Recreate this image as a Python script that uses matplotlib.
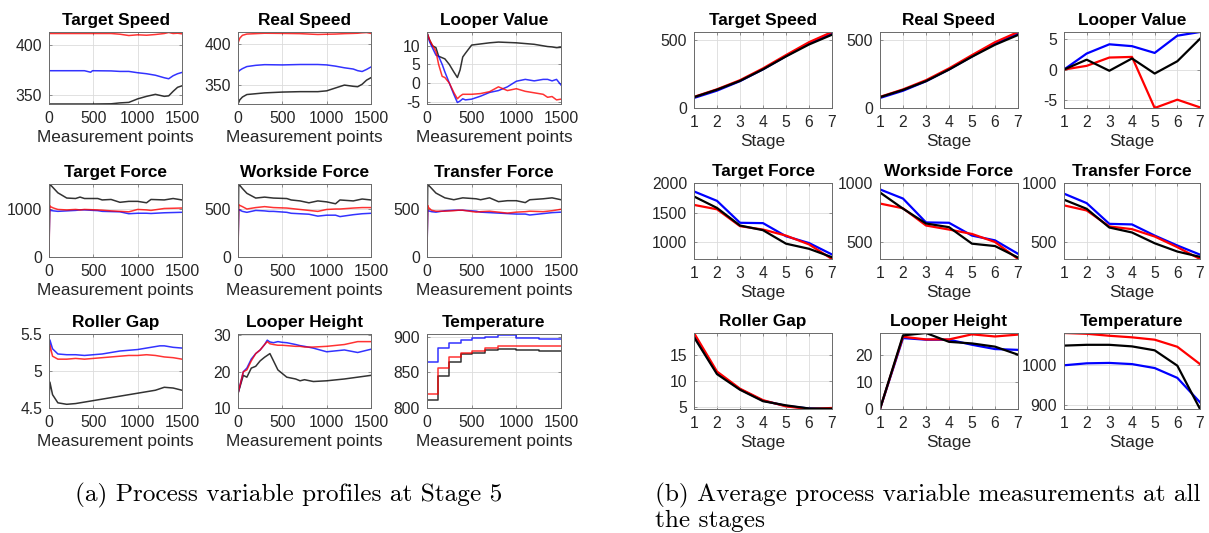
import matplotlib
matplotlib.use("Agg")
import matplotlib.pyplot as plt
from matplotlib.ticker import FormatStrFormatter

# ---------------- (a) process variable profiles at stage 5 ----------------
ts_x = [0, 200, 400, 470, 490, 700, 800, 900, 1000, 1100, 1200, 1300, 1350, 1400, 1450, 1500]
ts_red = [411.5, 411.5, 411.5, 411.5, 411.5, 411.5, 410.8, 409.5, 410.2, 409.8, 410.5, 411.5, 412.5, 411.5, 411.8, 411.2]
ts_blue = [374.5, 374.5, 374.5, 373.0, 374.5, 374.3, 373.8, 373.8, 372.5, 371.5, 370.0, 367.5, 366.5, 369.5, 371.5, 372.8]
ts_black = [341.4, 341.4, 341.4, 341.4, 341.4, 341.6, 342.5, 343.0, 346.5, 349.0, 351.0, 349.0, 349.5, 354.0, 358.0, 359.5]

rs_x = [0, 20, 50, 100, 200, 300, 500, 700, 900, 1000, 1100, 1200, 1300, 1350, 1400, 1450, 1500]
rs_red = [401, 407, 410.5, 412, 412.5, 413, 412.8, 412.5, 411.5, 411.8, 412, 412.5, 412.8, 413, 413.5, 413.8, 412.8]
rs_blue = [366, 368, 370, 372.5, 374, 374.8, 374.5, 375, 375, 374.5, 373, 371, 369.5, 367.5, 366.5, 369, 372]
rs_black = [327, 332, 335.5, 338.5, 339.5, 340.5, 341.5, 342, 342, 343, 346.5, 350, 348.5, 348, 351, 356, 359]

lv_x = [0, 30, 60, 100, 130, 170, 200, 250, 300, 340, 370, 400, 430, 500, 600, 700, 800,
        900, 1000, 1100, 1200, 1300, 1350, 1400, 1450, 1500]
lv_black = [13.5, 11.5, 10.0, 9.5, 7.2, 6.8, 6.5, 5.0, 3.0, 1.5, 3.5, 7.0, 8.0, 10.2, 10.5, 10.8,
            11.0, 10.9, 10.8, 10.6, 10.4, 10.0, 9.8, 9.7, 9.5, 9.6]
lv_blue = [13.5, 11.0, 9.5, 7.5, 7.2, 5.0, 3.0, 0.0, -3.0, -5.2, -4.8, -4.2, -4.5, -4.3, -3.5, -2.5,
           -2.0, -1.0, 0.5, 1.0, 0.6, 1.0, 1.0, 0.6, 1.0, -0.5]
lv_red = [13.5, 11.5, 10.2, 8.5, 5.0, 1.8, 1.5, 0.0, -2.5, -4.2, -3.5, -3.0, -3.0, -3.0, -2.8, -2.3,
          -1.0, -2.0, -1.5, -2.2, -2.6, -3.0, -3.8, -3.6, -4.5, -4.3]

f_x = [0, 8, 15, 50, 100, 200, 300, 350, 400, 550, 600, 700, 800, 900, 1000, 1100, 1150, 1300, 1400, 1500]
tf_black = [0, 1530, 1520, 1450, 1350, 1240, 1230, 1260, 1230, 1230, 1200, 1210, 1150, 1170, 1170, 1140, 1210, 1200, 1230, 1200]
tf_red = [0, 1080, 1060, 1030, 1000, 990, 1000, 990, 1000, 990, 985, 970, 960, 950, 1000, 990, 980, 1020, 1025, 1030]
tf_blue = [150, 1000, 980, 970, 960, 970, 980, 990, 990, 975, 960, 955, 950, 910, 920, 920, 915, 930, 935, 940]

wf_black = [0, 765, 760, 720, 670, 620, 630, 625, 620, 615, 600, 590, 570, 590, 580, 560, 600, 590, 610, 600]
wf_red = [0, 550, 545, 530, 505, 520, 530, 525, 520, 515, 510, 500, 490, 480, 500, 505, 505, 515, 520, 520]
wf_blue = [60, 500, 495, 480, 470, 490, 485, 480, 480, 470, 460, 455, 450, 430, 440, 440, 425, 445, 455, 460]

trf_black = [0, 760, 755, 720, 670, 620, 600, 610, 620, 610, 600, 620, 580, 590, 590, 570, 600, 610, 620, 600]
trf_red = [50, 540, 520, 490, 480, 480, 485, 490, 490, 470, 475, 480, 470, 460, 470, 475, 480, 475, 485, 500]
trf_blue = [60, 480, 485, 475, 470, 485, 490, 490, 490, 480, 470, 465, 460, 455, 450, 450, 440, 455, 465, 470]

rg_x = [0, 10, 40, 100, 200, 300, 400, 500, 600, 700, 800, 900, 1000, 1100, 1200, 1250, 1300, 1400, 1500]
rg_blue = [5.20, 5.42, 5.30, 5.23, 5.22, 5.22, 5.21, 5.22, 5.23, 5.25, 5.27, 5.28, 5.29, 5.31, 5.33, 5.34, 5.34, 5.32, 5.31]
rg_red = [5.17, 5.35, 5.20, 5.16, 5.16, 5.17, 5.16, 5.17, 5.18, 5.19, 5.20, 5.21, 5.21, 5.22, 5.21, 5.20, 5.19, 5.18, 5.16]
rg_black = [4.60, 4.85, 4.68, 4.57, 4.55, 4.56, 4.58, 4.60, 4.62, 4.64, 4.66, 4.68, 4.70, 4.72, 4.74, 4.76, 4.78, 4.77, 4.74]

lh_x = [0, 60, 100, 150, 200, 250, 300, 330, 360, 400, 450, 500, 550, 650, 700, 750, 850, 1000, 1200, 1350, 1500]
lh_black = [14, 19, 18.5, 21, 21.5, 23, 24, 24.5, 25, 23, 20.5, 19.5, 18.5, 18, 17.5, 17.8, 17.3, 17.5, 18, 18.5, 19]
lh_blue = [14, 20, 21, 23.5, 25, 26, 27.5, 28.7, 28.2, 28, 28.3, 28.1, 28, 27.5, 27.2, 27, 26.5, 25.5, 26, 25.3, 26.2]
lh_red = [14, 20, 20.5, 23, 25, 26, 27.5, 28.3, 27.7, 27.5, 27.3, 27.3, 27.2, 27, 27, 26.8, 26.8, 27, 27.5, 28.3, 28.3]

tp_x = [0, 120, 250, 380, 500, 650, 800, 1000, 1250, 1500]
tp_blue = [865, 885, 892, 895, 898, 900, 902, 899, 897, 897]
tp_red = [819, 856, 871, 877, 880, 884, 887, 887, 887, 887]
tp_black = [811, 845, 865, 876, 878, 881, 883, 881, 880, 880]

# ---------------- (b) averages over the seven stages ----------------
stages = [1, 2, 3, 4, 5, 6, 7]
s_ts_blue = [74, 128, 198, 285, 382, 478, 552]
s_ts_red = [82, 138, 205, 292, 390, 485, 560]
s_ts_black = [80, 135, 200, 285, 380, 468, 540]

s_rs_blue = [74, 127, 197, 284, 380, 477, 550]
s_rs_red = [82, 137, 205, 292, 390, 485, 560]
s_rs_black = [80, 133, 198, 283, 378, 466, 538]

s_lv_blue = [0, 2.6, 4.1, 3.8, 2.7, 5.5, 6.1]
s_lv_red = [0, 0.6, 1.95, 2.05, -6.25, -4.9, -6.15]
s_lv_black = [0, 1.6, -0.2, 1.8, -0.65, 1.35, 5.0]

s_tf_blue = [1858, 1699, 1330, 1324, 1103, 989, 796]
s_tf_red = [1631, 1557, 1273, 1216, 1114, 966, 720]
s_tf_black = [1773, 1580, 1284, 1205, 978, 892, 750]

s_wf_blue = [946, 869, 668, 665, 557, 517, 404]
s_wf_red = [827, 787, 642, 608, 571, 503, 360]
s_wf_black = [920, 784, 659, 628, 489, 469, 372]

s_trf_blue = [910, 830, 655, 650, 556, 472, 395]
s_trf_red = [811, 768, 633, 610, 548, 458, 358]
s_trf_black = [859, 782, 624, 582, 491, 421, 376]

s_rg_blue = [18.6, 11.5, 8.4, 6.2, 5.2, 4.7, 4.6]
s_rg_red = [19.2, 11.8, 8.5, 6.3, 5.1, 4.6, 4.8]
s_rg_black = [18.4, 11.3, 8.3, 6.1, 5.3, 4.7, 4.65]

s_lh_blue = [0, 26.5, 25.9, 25.9, 24.0, 22.4, 22.1]
s_lh_red = [0, 27.0, 26.0, 26.0, 27.9, 27.1, 27.8]
s_lh_black = [0, 27.5, 28.4, 25.1, 24.5, 23.3, 20.3]

s_tp_blue = [1000, 1005, 1006, 1003, 993, 968, 906]
s_tp_red = [1082, 1080, 1075, 1071, 1065, 1047, 1003]
s_tp_black = [1050, 1052, 1052, 1048, 1038, 999, 889]

W, H = 1209, 533
AX_GREY = "#262626"
plt.rcParams["font.family"] = ["Liberation Sans", "DejaVu Sans"]

fig = plt.figure(figsize=(W / 100, H / 100), dpi=100)


def box(x0, x1, y0, y1):
    return [x0 / W, 1 - y1 / H, (x1 - x0) / W, (y1 - y0) / H]


def style(ax, title, xlabel, xlim, xticks, ylim, yticks):
    ax.set_xlim(xlim)
    ax.set_ylim(ylim)
    ax.set_xticks(xticks)
    ax.set_yticks(yticks)
    ax.yaxis.set_major_formatter(FormatStrFormatter("%g"))
    ax.grid(True, color="#dcdcdc", lw=0.6)
    ax.set_axisbelow(True)
    ax.tick_params(direction="in", length=2.5, width=0.5, colors=AX_GREY,
                   labelsize=11.3, pad=5, top=True, right=True)
    ax.tick_params(color="#6a6a6a")
    for sp in ax.spines.values():
        sp.set_color("#6a6a6a")
        sp.set_linewidth(0.7)
    ax.set_title(title, fontsize=12.4, fontweight="bold", pad=5)
    ax.set_xlabel(xlabel, fontsize=12.4, color=AX_GREY, labelpad=3)


left_cols = [(49, 182), (238, 371), (427, 561)]
left_rows = [(32, 104), (184, 257), (334, 408)]
right_cols = [(694, 832), (880, 1018), (1064, 1200)]
right_rows = [(32, 108), (183, 259), (333, 409)]

panels_a = [
    ("Target Speed", ts_x, ts_black, ts_blue, ts_red, (341.4, 413), [350, 400]),
    ("Real Speed", rs_x, rs_black, rs_blue, rs_red, (327, 414.5), [350, 400]),
    ("Looper Value", lv_x, lv_black, lv_blue, lv_red, (-5.6, 13.7), [-5, 0, 5, 10]),
    ("Target Force", f_x, tf_black, tf_blue, tf_red, (0, 1535), [0, 1000]),
    ("Workside Force", f_x, wf_black, wf_blue, wf_red, (0, 768), [0, 500]),
    ("Transfer Force", f_x, trf_black, trf_blue, trf_red, (0, 765), [0, 500]),
    ("Roller Gap", rg_x, rg_black, rg_blue, rg_red, (4.5, 5.5), [4.5, 5, 5.5]),
    ("Looper Height", lh_x, lh_black, lh_blue, lh_red, (10, 30.4), [10, 20, 30]),
    ("Temperature", tp_x, tp_black, tp_blue, tp_red, (800, 904), [800, 850, 900]),
]

for i, (title, x, k, b, r, ylim, yt) in enumerate(panels_a):
    row, col = divmod(i, 3)
    ax = fig.add_axes(box(*left_cols[col], *left_rows[row]))
    ds = "steps-post" if title == "Temperature" else "default"
    for y, c in ((k, "black"), (b, "blue"), (r, "red")):
        ax.plot(x, y, color=c, lw=1.1, alpha=0.8, drawstyle=ds)
    style(ax, title, "Measurement points", (0, 1500), [0, 500, 1000, 1500], ylim, yt)

panels_b = [
    ("Target Speed", s_ts_black, s_ts_blue, s_ts_red, (0, 560), [0, 500]),
    ("Real Speed", s_rs_black, s_rs_blue, s_rs_red, (0, 560), [0, 500]),
    ("Looper Value", s_lv_black, s_lv_blue, s_lv_red, (-6.25, 6.1), [-5, 0, 5]),
    ("Target Force", s_tf_black, s_tf_blue, s_tf_red, (720, 2000), [1000, 1500, 2000]),
    ("Workside Force", s_wf_black, s_wf_blue, s_wf_red, (360, 1000), [500, 1000]),
    ("Transfer Force", s_trf_black, s_trf_blue, s_trf_red, (358, 1000), [500, 1000]),
    ("Roller Gap", s_rg_black, s_rg_blue, s_rg_red, (4.6, 19.2), [5, 10, 15]),
    ("Looper Height", s_lh_black, s_lh_blue, s_lh_red, (0, 28.4), [0, 10, 20]),
    ("Temperature", s_tp_black, s_tp_blue, s_tp_red, (889, 1082), [900, 1000]),
]

for i, (title, k, b, r, ylim, yt) in enumerate(panels_b):
    row, col = divmod(i, 3)
    ax = fig.add_axes(box(*right_cols[col], *right_rows[row]))
    for y, c in ((b, "blue"), (r, "red"), (k, "black")):
        ax.plot(stages, y, color=c, lw=1.6)
    style(ax, title, "Stage", (1, 7), stages, ylim, yt)

fig.text(289 / W, 1 - 495 / H, "(a) Process variable profiles at Stage 5",
         ha="center", va="center", family="cmr10", fontsize=18.2)
fig.text(655 / W, 1 - 495 / H, "(b) Average process variable measurements at all",
         ha="left", va="center", family="cmr10", fontsize=18.2)
fig.text(655 / W, 1 - 521 / H, "the stages",
         ha="left", va="center", family="cmr10", fontsize=18.2)

fig.savefig("out.png", dpi=100)
